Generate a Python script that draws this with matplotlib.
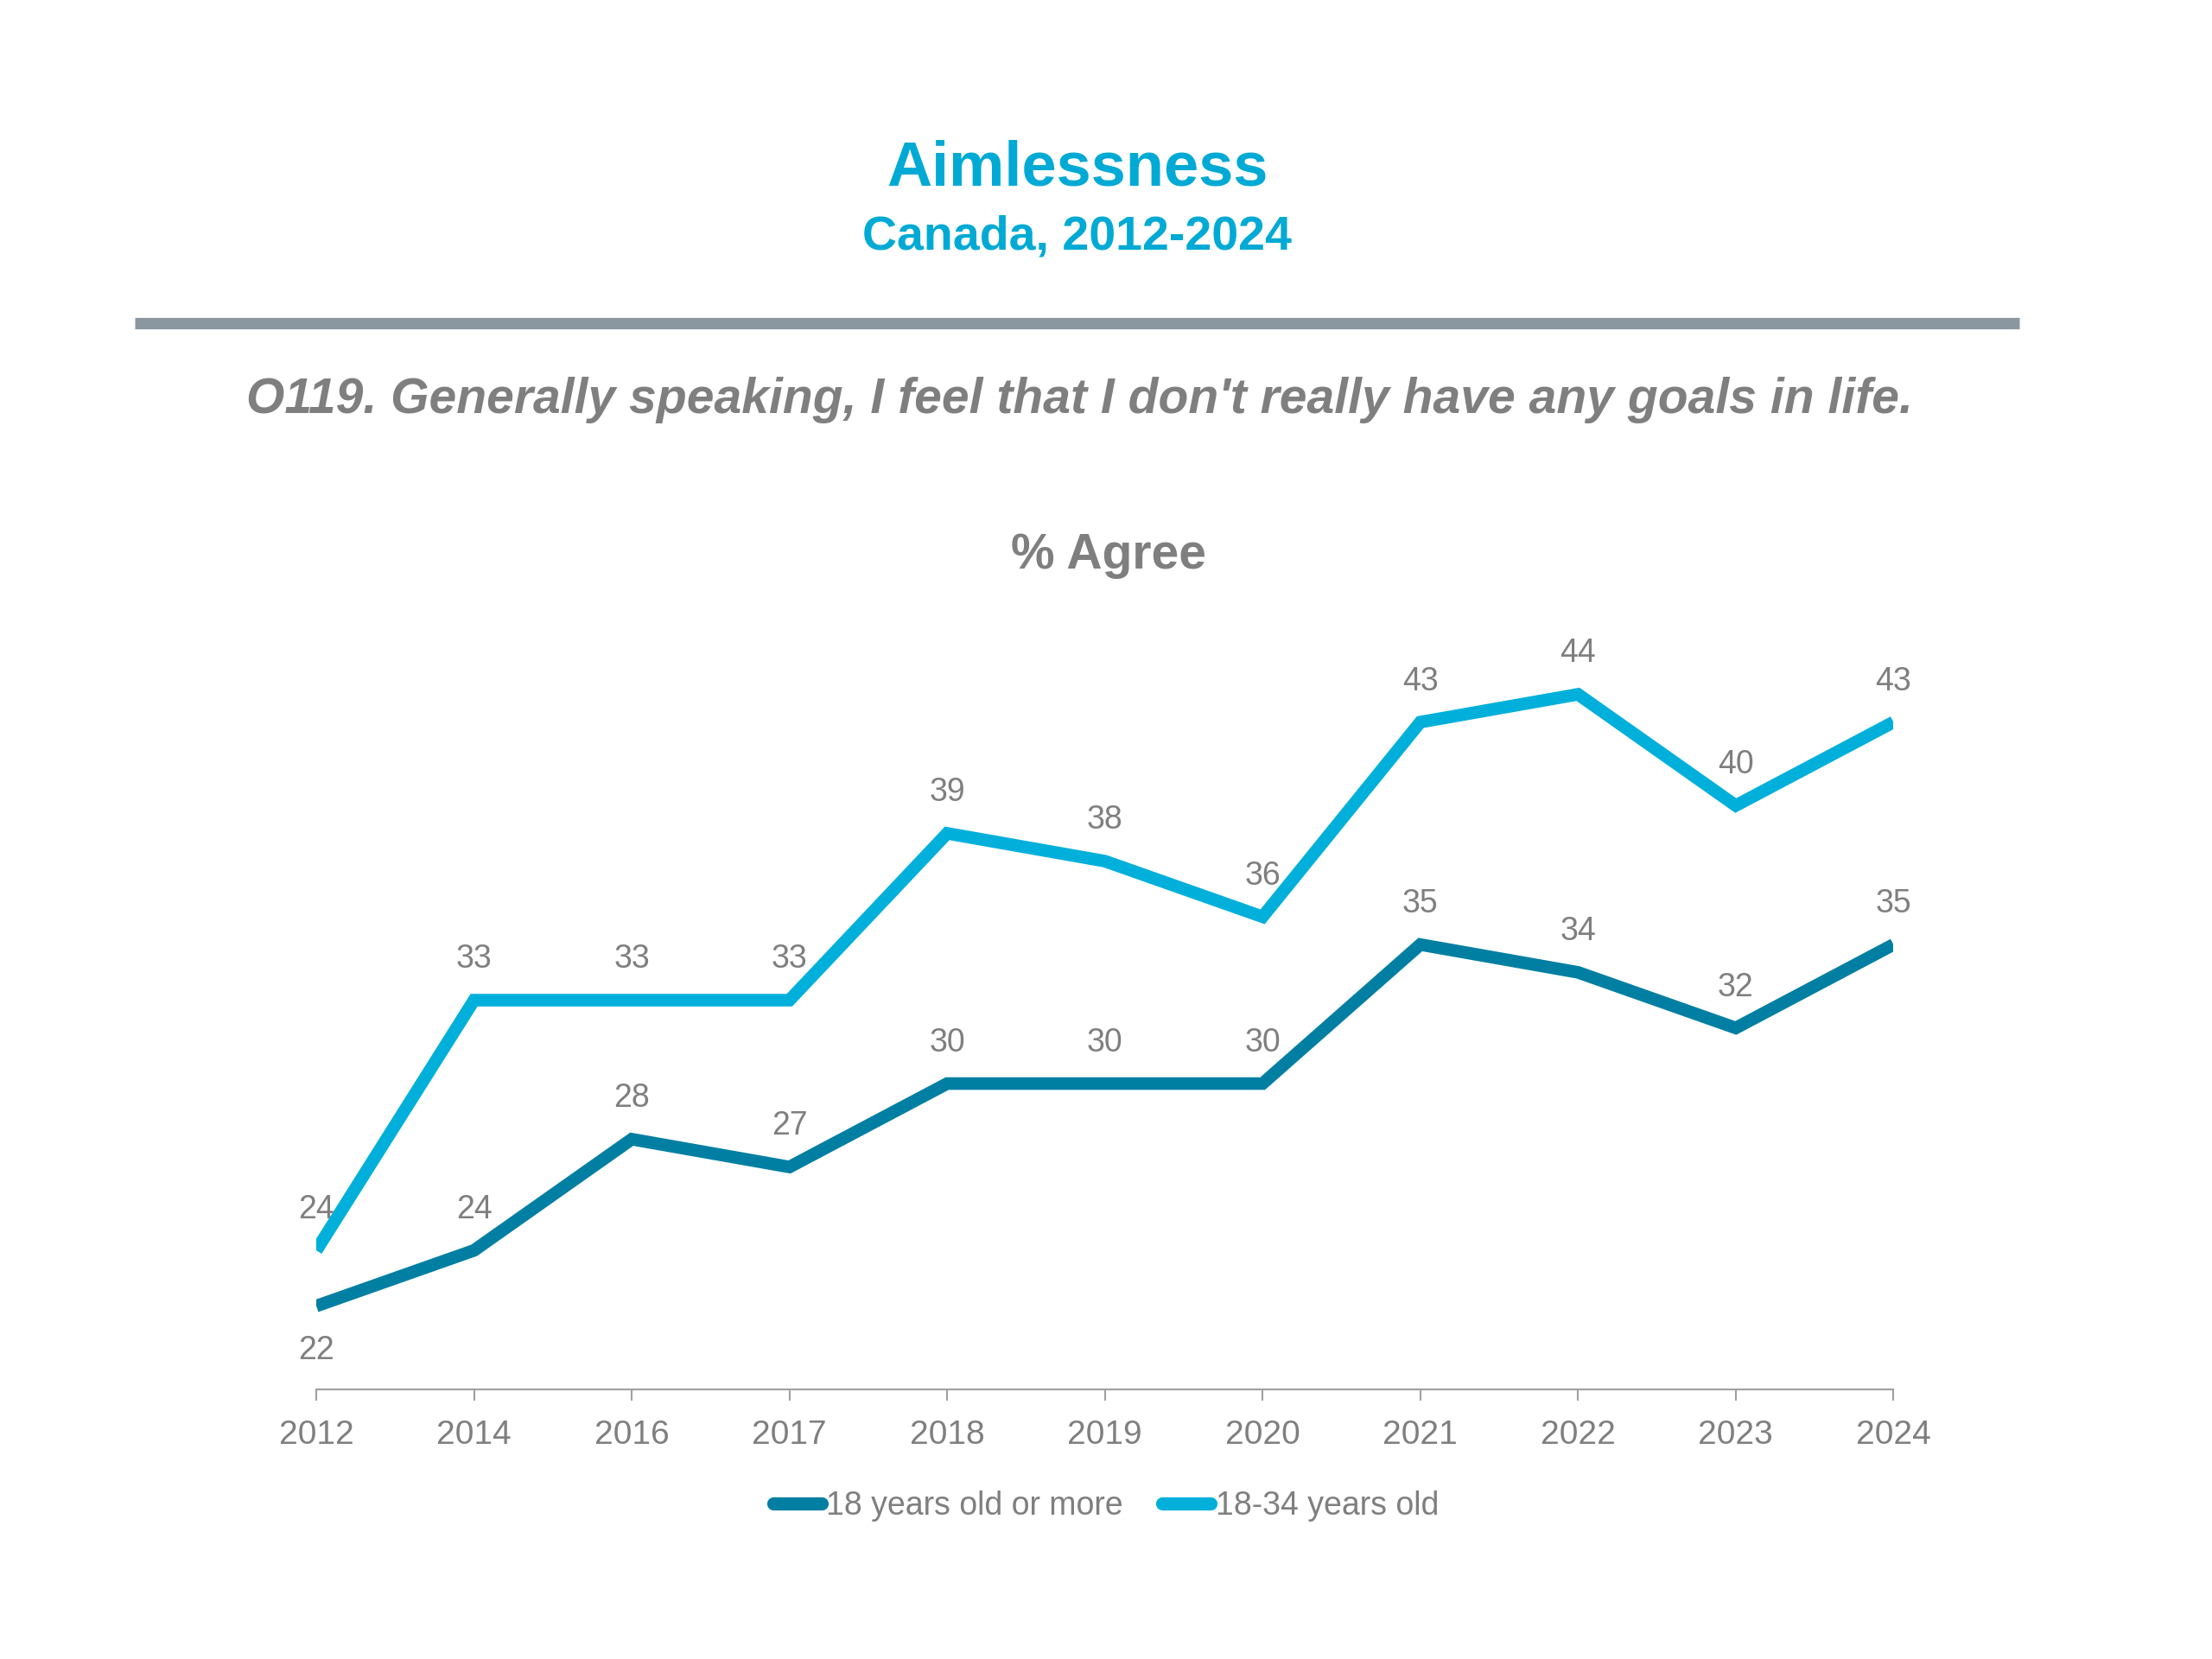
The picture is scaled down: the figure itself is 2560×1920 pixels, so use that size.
import matplotlib
matplotlib.use('Agg')
import matplotlib.pyplot as plt
from matplotlib.lines import Line2D

# Данные
years = ['2012', '2014', '2016', '2017', '2018', '2019', '2020',
         '2021', '2022', '2023', '2024']
all_adults = [22, 24, 28, 27, 30, 30, 30, 35, 34, 32, 35]
young_adults = [24, 33, 33, 33, 39, 38, 36, 43, 44, 40, 43]
series_names = ['18 years old or more', '18-34 years old']

DARK = '#007fa3'
LIGHT = '#00b0db'
TITLE = '#00aad4'
GRAY = '#7f7f7f'

plt.rcParams['font.family'] = ['Liberation Sans', 'DejaVu Sans']
NARROW = ['Liberation Sans Narrow', 'Liberation Sans', 'DejaVu Sans']

fig = plt.figure(figsize=(25.6, 19.2), dpi=100)
ax = fig.add_axes([0.143, 0.1625, 0.713, 0.4525])

x = list(range(len(years)))
ax.plot(x, all_adults, color=DARK, lw=10.5, solid_capstyle='butt',
        solid_joinstyle='miter')
ax.plot(x, young_adults, color=LIGHT, lw=10.5, solid_capstyle='butt',
        solid_joinstyle='miter')

# Подписи значений
for i, (a, b) in enumerate(zip(all_adults, young_adults)):
    ax.annotate(str(b), (i, b), xytext=(0, 21), textcoords='offset points',
                ha='center', va='bottom', fontsize=27, color=GRAY,
                family=NARROW)
    if i == 0:
        ax.annotate(str(a), (i, a), xytext=(0, -24), textcoords='offset points',
                    ha='center', va='top', fontsize=27, color=GRAY,
                    family=NARROW)
    else:
        ax.annotate(str(a), (i, a), xytext=(0, 21), textcoords='offset points',
                    ha='center', va='bottom', fontsize=27, color=GRAY,
                    family=NARROW)

ax.set_xlim(0, len(years) - 1)
ax.set_ylim(19, 46)
ax.set_xticks(x)
ax.set_xticklabels(years, family=NARROW, fontsize=28, color=GRAY)
ax.set_yticks([])
ax.tick_params(axis='x', length=9.5, width=1.5, color='#a0a0a0', pad=16)

for side in ['top', 'right', 'left']:
    ax.spines[side].set_visible(False)
ax.spines['bottom'].set_color('#a0a0a0')
ax.spines['bottom'].set_linewidth(1.5)
ax.spines['bottom'].set_bounds(0, len(years) - 1)

# Заголовки
fig.text(0.487, 0.898, 'Aimlessness', ha='center', va='center',
         fontsize=52, fontweight='bold', color=TITLE)
fig.text(0.487, 0.857, 'Canada, 2012-2024', ha='center', va='center',
         fontsize=40, fontweight='bold', color=TITLE)
fig.add_artist(Line2D([0.061, 0.913], [0.805, 0.805], transform=fig.transFigure,
                      color='#8a96a0', lw=9.5, solid_capstyle='butt'))
fig.text(0.488, 0.759,
         "O119. Generally speaking, I feel that I don't really have any goals in life.",
         ha='center', va='center', fontsize=41, fontweight='bold',
         fontstyle='italic', color=GRAY)
fig.text(0.501, 0.665, '% Agree', ha='center', va='center',
         fontsize=41, fontweight='bold', color=GRAY)

# Легенда
handles = [Line2D([], [], color=DARK, lw=11, solid_capstyle='round'),
           Line2D([], [], color=LIGHT, lw=11, solid_capstyle='round')]
leg = fig.legend(handles, series_names, loc='center', bbox_to_anchor=(0.5, 0.092),
                 ncol=2, frameon=False, handlelength=1.5, handletextpad=0.15,
                 columnspacing=1.2, prop={'family': NARROW, 'size': 27})
for t in leg.get_texts():
    t.set_color(GRAY)

fig.savefig('out.png', dpi=100)
plt.close(fig)
